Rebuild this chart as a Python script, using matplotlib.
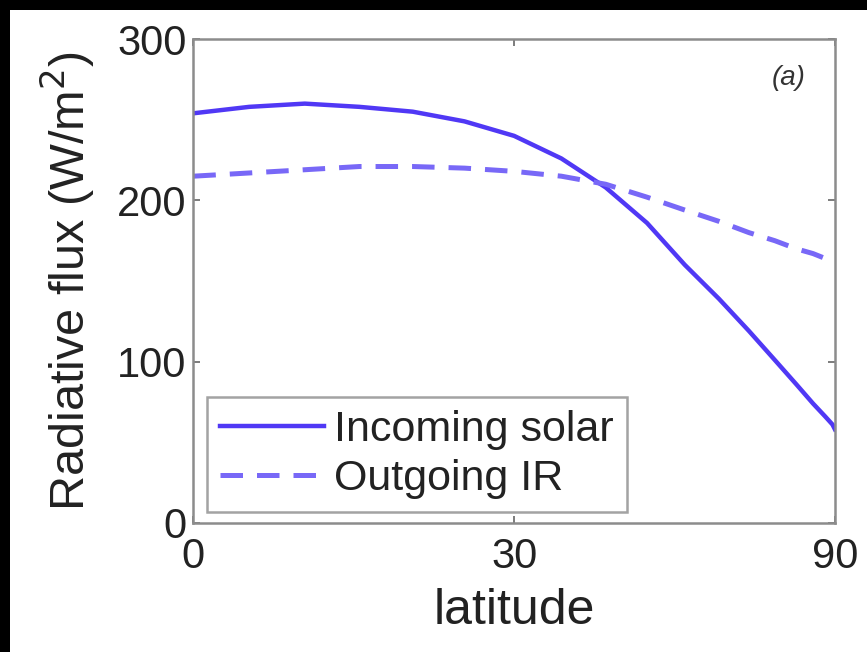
import numpy as np
import matplotlib
matplotlib.use("Agg")
import matplotlib.pyplot as plt
from matplotlib.patches import Rectangle

# latitude (deg) and fluxes (W/m^2)
latitude = [0, 5, 10, 15, 20, 25, 30, 35, 40, 45, 50, 55, 60, 65, 70, 75, 80, 85, 90]
incoming_solar = [254, 258, 260, 258, 255, 249, 240, 226, 208, 186, 160, 139, 119, 101, 86, 74, 66, 61, 58]
outgoing_ir = [215, 217, 219, 221, 221, 220, 218, 215, 210, 202, 194, 187, 180, 175, 170, 167, 164, 163, 162]

x_ticks = [0, 30, 90]
y_ticks = [0, 100, 200, 300]

plt.rcParams['font.family'] = ['Liberation Sans', 'DejaVu Sans']

fig = plt.figure(figsize=(8.67, 6.52), dpi=100, facecolor="white")
# thin black margin along the top and the left
fig.patches.append(Rectangle((0, 0), 10 / 867, 1, transform=fig.transFigure,
                             facecolor="black", edgecolor="none", zorder=-10))
fig.patches.append(Rectangle((0, 1 - 10 / 652), 1, 10 / 652, transform=fig.transFigure,
                             facecolor="black", edgecolor="none", zorder=-10))

ax = fig.add_axes([0.223, 0.198, 0.740, 0.742])


def to_sin(x):
    return np.sin(np.radians(np.clip(x, -90, 90)))


def from_sin(s):
    return np.degrees(np.arcsin(np.clip(s, -1, 1)))


ax.set_xscale("function", functions=(to_sin, from_sin))

ax.plot(latitude, incoming_solar, color="#5038f5", lw=3.2, label="Incoming solar")
ax.plot(latitude, outgoing_ir, color="#7868f7", lw=3.6, dashes=(4.5, 2.8), label="Outgoing IR")

ax.set_xlim(0, 90)
ax.set_ylim(0, 300)
ax.set_xticks(x_ticks)
ax.set_xticklabels([str(t) for t in x_ticks])
ax.set_yticks(y_ticks)
ax.minorticks_off()

for s in ax.spines.values():
    s.set_color("#8c8c8c")
    s.set_linewidth(1.8)
ax.tick_params(direction="in", top=True, right=True, length=5, width=1.2,
               color="#666666", labelsize=30, labelcolor="#222222")
ax.tick_params(axis="x", pad=10)
ax.tick_params(axis="y", pad=5)

ax.set_xlabel("latitude", fontsize=36, color="#222222", labelpad=8)
ax.set_ylabel("Radiative flux (W/m$^2$)", fontsize=35, color="#222222", labelpad=14)

ax.text(0.955, 0.92, "(a)", transform=ax.transAxes, fontsize=20, style="italic",
        ha="right", va="center", color="#333333")

leg = ax.legend(loc="lower left", bbox_to_anchor=(0.022, 0.023), borderaxespad=0,
                fontsize=31, frameon=True, fancybox=False, handlelength=2.4,
                handletextpad=0.25, labelspacing=0.2, borderpad=0.3)
leg.get_frame().set_edgecolor("#8c8c8c")
leg.get_frame().set_linewidth(1.8)
for t in leg.get_texts():
    t.set_color("#222222")

fig.savefig("out.png", dpi=100)
